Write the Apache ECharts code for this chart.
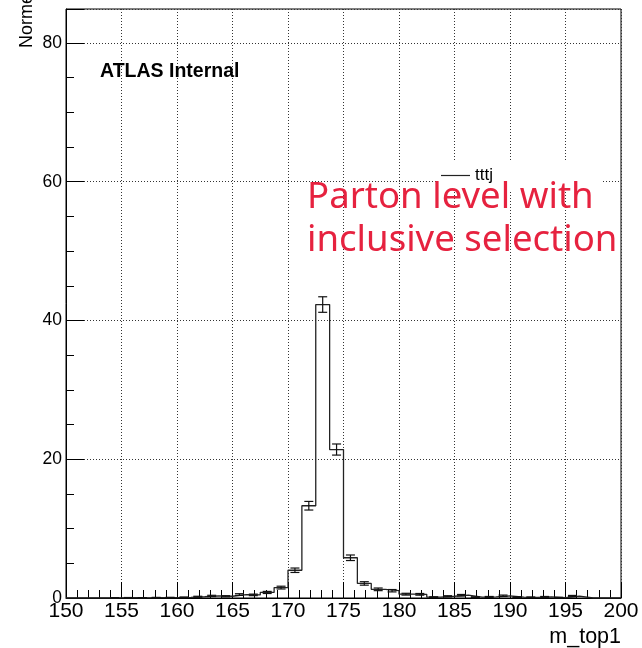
<!DOCTYPE html>
<html>
<head>
<meta charset="utf-8">
<title>m_top1</title>
<script src="https://cdn.jsdelivr.net/npm/echarts@6/dist/echarts.min.js"></script>
<style>
  html, body { margin: 0; padding: 0; background: #fff; }
  #chart { width: 642px; height: 648px; }
</style>
</head>
<body>
<div id="chart"></div>
<script>
// Histogram of m_top1: 40 bins of 1.25 GeV from 150 to 200
const binLowEdges = [
  150, 151.25, 152.5, 153.75, 155, 156.25, 157.5, 158.75, 160, 161.25,
  162.5, 163.75, 165, 166.25, 167.5, 168.75, 170, 171.25, 172.5, 173.75,
  175, 176.25, 177.5, 178.75, 180, 181.25, 182.5, 183.75, 185, 186.25,
  187.5, 188.75, 190, 191.25, 192.5, 193.75, 195, 196.25, 197.5, 198.75
];
const binWidth = 1.25;
const xUpper = 200;

const binValues = [
  0, 0, 0, 0.03, 0.04, 0.02, 0.05, 0.06, 0.1, 0.18,
  0.3, 0.25, 0.5, 0.45, 0.8, 1.5, 4.0, 13.3, 42.3, 21.4,
  5.8, 2.1, 1.25, 1.05, 0.55, 0.53, 0.12, 0.25, 0.4, 0.12,
  0.15, 0.32, 0.12, 0.1, 0.15, 0.05, 0.28, 0, 0, 0
];

const binErrors = [
  0, 0, 0, 0.03, 0.03, 0.02, 0.04, 0.04, 0.05, 0.07,
  0.09, 0.08, 0.12, 0.11, 0.15, 0.2, 0.32, 0.62, 1.12, 0.8,
  0.4, 0.25, 0.19, 0.17, 0.13, 0.12, 0.06, 0.08, 0.11, 0.06,
  0.07, 0.1, 0.06, 0.05, 0.07, 0.04, 0.09, 0, 0, 0
];

const xTicks = [150, 155, 160, 165, 170, 175, 180, 185, 190, 195, 200];
const yTicks = [0, 20, 40, 60, 80];

const seriesName = 'tttj';
const xTitle = 'm_top1';
const yTitle = 'Normed to unit';
const labelText = 'ATLAS Internal';
const noteLines = ['Parton level with', 'inclusive selection'];

// step outline points: each bin's low edge, closed at the upper edge
const outline = binLowEdges.map((e, i) => [e, binValues[i]]);
outline.push([xUpper, binValues[binValues.length - 1]]);

// error bars at bin centres
const errorData = binLowEdges
  .map((e, i) => [e + binWidth / 2, binValues[i], binErrors[i]])
  .filter(d => d[1] > 0);

const chart = echarts.init(document.getElementById('chart'), null, { renderer: 'canvas' });

const axisFont = 'Liberation Sans, Arial, Helvetica, sans-serif';
const noteFont = '36.6px "Noto Sans", "Open Sans", sans-serif';

chart.setOption({
  animation: false,
  backgroundColor: '#ffffff',
  grid: {
    left: 66, right: 21, top: 9, bottom: 50,
    show: true, borderColor: '#000', borderWidth: 1, backgroundColor: 'transparent'
  },
  xAxis: {
    type: 'value',
    min: xTicks[0], max: xTicks[xTicks.length - 1], interval: 5,
    axisLine: { lineStyle: { color: '#000', width: 1 } },
    axisTick: { inside: true, length: 16, lineStyle: { color: '#000', width: 1 } },
    minorTick: { show: true, splitNumber: 5, length: 8, lineStyle: { color: '#000', width: 1 } },
    splitLine: { show: true, lineStyle: { type: [1, 2], color: '#333', width: 1 } },
    axisLabel: { color: '#000', fontSize: 21, fontFamily: axisFont, margin: 3 }
  },
  yAxis: {
    type: 'value',
    min: yTicks[0], max: 84.9, interval: 20,
    axisLine: { show: true, lineStyle: { color: '#000', width: 1 } },
    axisTick: { show: true, inside: true, length: 18, lineStyle: { color: '#000', width: 1 } },
    minorTick: { show: true, splitNumber: 4, length: 8, lineStyle: { color: '#000', width: 1 } },
    splitLine: { show: true, lineStyle: { type: [1, 2], color: '#333', width: 1 } },
    axisLabel: { color: '#000', fontSize: 17.5, fontFamily: axisFont, margin: 4, showMaxLabel: false }
  },
  legend: {
    data: [seriesName],
    left: 436, top: 160,
    padding: [7, 110, 7, 5],
    backgroundColor: '#ffffff',
    icon: 'rect',
    itemWidth: 29, itemHeight: 1.2, itemGap: 0,
    textStyle: { color: '#000', fontSize: 17, fontFamily: axisFont, padding: [0, 0, 0, 0] }
  },
  series: [
    {
      name: seriesName,
      type: 'line',
      step: 'end',
      data: outline,
      symbol: 'none',
      color: '#222',
      lineStyle: { color: '#222', width: 1.3 },
      z: 3
    },
    {
      name: 'errors',
      type: 'custom',
      data: errorData,
      z: 4,
      renderItem: function (params, api) {
        const x = api.value(0), v = api.value(1), e = api.value(2);
        const lo = api.coord([x, v - e]);
        const hi = api.coord([x, v + e]);
        const cap = 4.5;
        const style = { stroke: '#111', lineWidth: 1.2 };
        return {
          type: 'group',
          children: [
            { type: 'line', shape: { x1: lo[0], y1: lo[1], x2: hi[0], y2: hi[1] }, style: style },
            { type: 'line', shape: { x1: lo[0] - cap, y1: lo[1], x2: lo[0] + cap, y2: lo[1] }, style: style },
            { type: 'line', shape: { x1: hi[0] - cap, y1: hi[1], x2: hi[0] + cap, y2: hi[1] }, style: style }
          ]
        };
      }
    }
  ],
  graphic: [
    {
      type: 'text', left: 100, top: 62, z: 10,
      style: { text: labelText, font: 'bold 19.5px ' + axisFont, fill: '#000' }
    },
    {
      type: 'text', x: 18, y: 48, rotation: Math.PI / 2, z: 10,
      style: { text: yTitle, font: '18px ' + axisFont, fill: '#000', textAlign: 'left', textVerticalAlign: 'top' }
    },
    {
      type: 'text', right: 21, top: 626, z: 10,
      style: { text: xTitle, font: '21.5px ' + axisFont, fill: '#000' }
    },
    {
      type: 'text', left: 307, top: 179, z: 20,
      style: { text: noteLines[0], font: noteFont, fill: '#e6223f' }
    },
    {
      type: 'text', left: 307, top: 222, z: 20,
      style: { text: noteLines[1], font: noteFont, fill: '#e6223f' }
    }
  ]
});
</script>
</body>
</html>
